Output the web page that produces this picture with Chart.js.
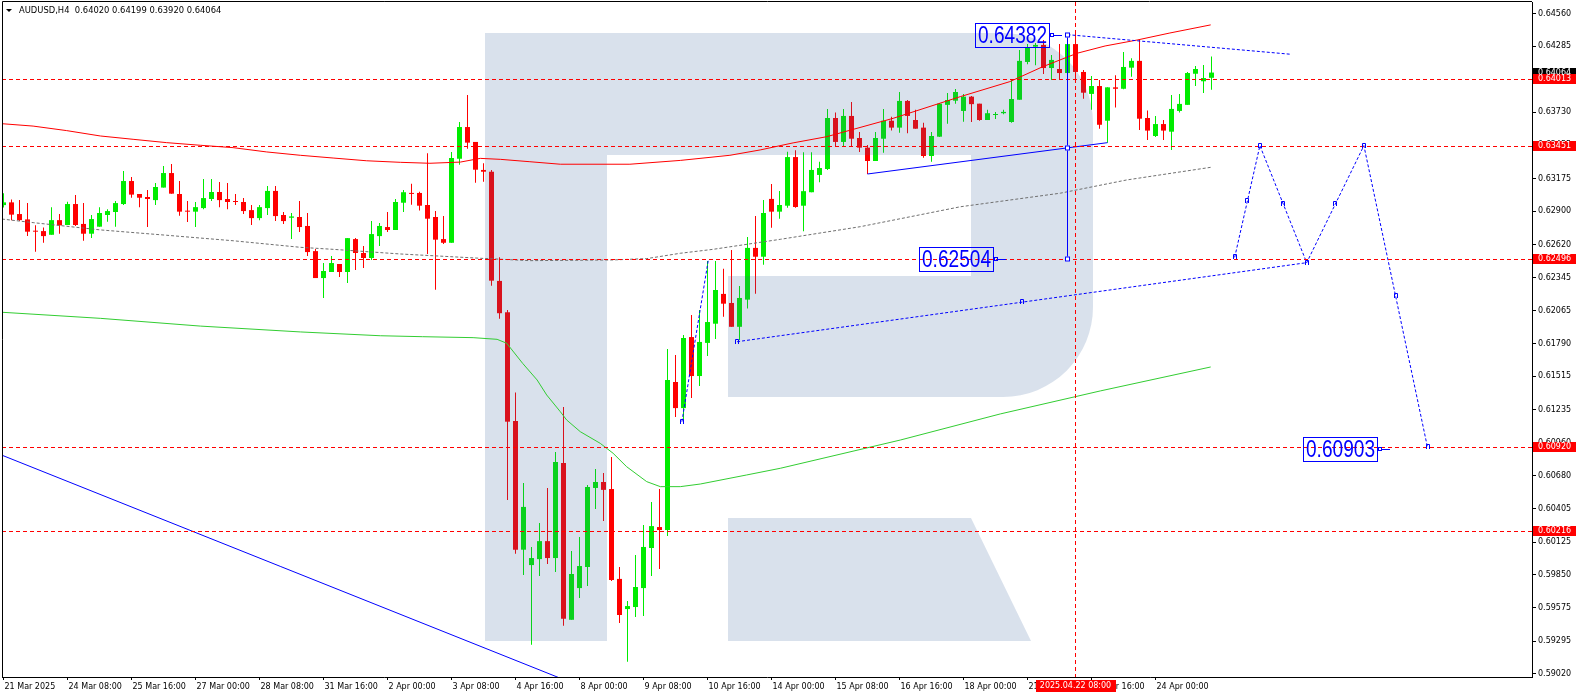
<!DOCTYPE html>
<html>
<head>
<meta charset="utf-8">
<title>AUDUSD,H4</title>
<script src="https://cdn.jsdelivr.net/npm/chart.js@4.4.1/dist/chart.umd.min.js"></script>
<style>
	html, body { margin: 0; padding: 0; background: #fff; overflow: hidden; }
	canvas { display: block; }
</style>
</head>
<body>
<canvas id="mycanvas" width="1578" height="698"></canvas>
<script>
// H4 candles, bar 0 = 21 Mar 2025 00:00
var opens = [0.62952,0.62975,0.62877,0.62832,0.62734,0.62734,0.62703,0.62826,0.62785,0.62961,
	0.62794,0.62712,0.62771,0.62869,0.62894,0.62961,0.63154,0.63045,0.63020,0.62994,
	0.63099,0.63221,0.63045,0.62902,0.62897,0.62927,0.63003,0.63062,0.63003,0.62986,
	0.62978,0.62910,0.62843,0.62927,0.63071,0.62869,0.62846,0.62852,0.62777,0.62566,
	0.62340,0.62391,0.62458,0.62391,0.62667,0.62550,0.62508,0.62692,0.62768,0.62743,
	0.62972,0.63054,0.63054,0.62953,0.62852,0.62667,0.62636,0.63341,0.63607,0.63482,
	0.63247,0.63232,0.62316,0.62053,0.61141,0.60061,0.59932,0.59982,0.60133,0.59991,
	0.60789,0.59473,0.59739,0.59916,0.60579,0.60629,0.60570,0.59816,0.59563,0.59580,
	0.59739,0.60075,0.60251,0.60226,0.61468,0.61249,0.61845,0.61518,0.61796,0.61957,
	0.62207,0.62131,0.61931,0.62159,0.62593,0.62519,0.63004,0.62897,0.62947,0.63355,
	0.62947,0.63060,0.63205,0.63255,0.63683,0.63482,0.63700,0.63515,0.63434,0.63322,
	0.63509,0.63660,0.63602,0.63826,0.63666,0.63602,0.63364,0.63526,0.63793,0.63828,
	0.63742,0.63862,0.63803,0.63666,0.63708,0.63723,0.63649,0.63836,0.64153,0.64281,
	0.64296,0.64102,0.64094,0.64060,0.64303,0.64069,0.63885,0.63951,0.63660,0.63940,
	0.63928,0.64105,0.64162,0.63683,0.63532,0.63632,0.63568,0.63742,0.63793,0.64054,
	0.63991,0.64020];
var highs = [0.63051,0.63000,0.62994,0.62969,0.62782,0.62765,0.62935,0.62877,0.62980,0.63037,
	0.62969,0.62869,0.62935,0.62918,0.62986,0.63238,0.63188,0.63045,0.63079,0.63137,
	0.63280,0.63297,0.63154,0.62986,0.62978,0.63171,0.63171,0.63146,0.63137,0.63045,
	0.63011,0.62952,0.62952,0.63112,0.63112,0.62894,0.62886,0.62986,0.62886,0.62583,
	0.62466,0.62524,0.62458,0.62675,0.62675,0.62609,0.62818,0.62802,0.62894,0.63003,
	0.63079,0.63132,0.63065,0.63387,0.62903,0.62861,0.63398,0.63649,0.63876,0.63482,
	0.63303,0.63247,0.62514,0.62072,0.61379,0.60621,0.60084,0.60285,0.60579,0.60881,
	0.61258,0.60050,0.60167,0.60604,0.60738,0.60705,0.60838,0.59916,0.59631,0.60016,
	0.60268,0.60461,0.60570,0.61745,0.61694,0.61862,0.62030,0.62072,0.62484,0.62484,
	0.62419,0.62575,0.62273,0.62684,0.62861,0.62995,0.63129,0.63071,0.63400,0.63412,
	0.63395,0.63395,0.63316,0.63759,0.63728,0.63759,0.63817,0.63566,0.63457,0.63566,
	0.63759,0.63694,0.63901,0.63834,0.63751,0.63643,0.63566,0.63809,0.63893,0.63926,
	0.63885,0.63868,0.63803,0.63751,0.63734,0.63751,0.64001,0.64253,0.64303,0.64312,
	0.64337,0.64211,0.64303,0.64382,0.64396,0.64086,0.64035,0.64001,0.63940,0.64041,
	0.64237,0.64184,0.64337,0.63745,0.63700,0.63666,0.63876,0.63885,0.64069,0.64119,
	0.64128,0.64199];
var lows = [0.62932,0.62826,0.62818,0.62692,0.62561,0.62636,0.62703,0.62712,0.62785,0.62777,
	0.62653,0.62675,0.62771,0.62812,0.62771,0.62952,0.63014,0.62935,0.62768,0.62952,
	0.63099,0.63048,0.62863,0.62810,0.62768,0.62918,0.62986,0.62935,0.62918,0.62952,
	0.62877,0.62785,0.62826,0.62869,0.62818,0.62794,0.62667,0.62726,0.62524,0.62340,
	0.62172,0.62391,0.62349,0.62298,0.62408,0.62424,0.62491,0.62609,0.62726,0.62743,
	0.62895,0.62955,0.62906,0.62542,0.62242,0.62625,0.62636,0.63291,0.63425,0.63140,
	0.63149,0.62276,0.61999,0.60478,0.60027,0.59848,0.59263,0.59840,0.59940,0.59873,
	0.59424,0.59473,0.59656,0.59756,0.60403,0.60302,0.59798,0.59446,0.59121,0.59496,
	0.59505,0.59840,0.59899,0.60176,0.61174,0.61149,0.61334,0.61434,0.61686,0.61829,
	0.62016,0.61931,0.61820,0.62084,0.62209,0.62452,0.62763,0.62838,0.62930,0.62930,
	0.62733,0.63060,0.63144,0.63247,0.63440,0.63440,0.63440,0.63398,0.63213,0.63322,
	0.63392,0.63577,0.63560,0.63555,0.63593,0.63350,0.63316,0.63523,0.63635,0.63803,
	0.63652,0.63649,0.63660,0.63666,0.63674,0.63714,0.63643,0.63836,0.64134,0.64125,
	0.64052,0.64001,0.64001,0.64001,0.64001,0.63845,0.63751,0.63593,0.63476,0.63770,
	0.63923,0.64029,0.63583,0.63499,0.63523,0.63499,0.63415,0.63728,0.63793,0.63951,
	0.63892,0.63920];
var closes = [0.62975,0.62872,0.62826,0.62729,0.62729,0.62692,0.62826,0.62782,0.62961,0.62785,
	0.62712,0.62835,0.62886,0.62902,0.62969,0.63154,0.63040,0.63014,0.63003,0.63104,
	0.63221,0.63048,0.62897,0.62897,0.62935,0.63011,0.63062,0.62994,0.62978,0.62978,
	0.62902,0.62843,0.62935,0.63071,0.62860,0.62818,0.62857,0.62768,0.62558,0.62340,
	0.62399,0.62466,0.62391,0.62675,0.62550,0.62508,0.62709,0.62777,0.62743,0.62978,
	0.63060,0.63046,0.62947,0.62838,0.62662,0.62636,0.63347,0.63607,0.63476,0.63249,
	0.63232,0.62318,0.62045,0.61135,0.60061,0.60420,0.59991,0.60133,0.59991,0.60797,
	0.59482,0.59857,0.59924,0.60587,0.60629,0.60563,0.59807,0.59513,0.59588,0.59748,
	0.60084,0.60259,0.60226,0.61485,0.61249,0.61837,0.61518,0.61804,0.61971,0.62240,
	0.62125,0.61931,0.62173,0.62593,0.62519,0.62886,0.62897,0.62953,0.63355,0.62936,
	0.63069,0.63247,0.63263,0.63683,0.63482,0.63700,0.63509,0.63434,0.63322,0.63515,
	0.63660,0.63602,0.63826,0.63700,0.63593,0.63364,0.63532,0.63803,0.63834,0.63901,
	0.63862,0.63799,0.63666,0.63723,0.63711,0.63734,0.63842,0.64162,0.64270,0.64296,
	0.64102,0.64170,0.64060,0.64303,0.64069,0.63895,0.63951,0.63626,0.63940,0.63928,
	0.64111,0.64162,0.63677,0.63577,0.63632,0.63577,0.63759,0.63801,0.64060,0.64094,
	0.64018,0.64064];

// time axis: one label every 8 bars
var tickLabels = ['21 Mar 2025','24 Mar 08:00','25 Mar 16:00','27 Mar 00:00','28 Mar 08:00','31 Mar 16:00',
	'2 Apr 00:00','3 Apr 08:00','4 Apr 16:00','8 Apr 00:00','9 Apr 08:00','10 Apr 16:00','14 Apr 00:00',
	'15 Apr 08:00','16 Apr 16:00','18 Apr 00:00','21 Apr 08:00','22 Apr 16:00','24 Apr 00:00'];
var labelEvery = 8;
var priceTicks = [0.64560,0.64285,0.64010,0.63730,0.63455,0.63175,0.62900,0.62620,0.62345,0.62065,0.61790,
	0.61515,0.61235,0.60960,0.60680,0.60405,0.60125,0.59850,0.59575,0.59295,0.59020];

// levels and markers
var levels = [0.64013,0.63451,0.62496,0.60920,0.60216];
var lastPrice = 0.64064;
var markerBar = 134;
var markerText = '2025.04.22 08:00';

// moving averages (bar, price)
var redMaBars = [-0.2,3.7,7.9,12.1,16.2,20.4,24.6,28.7,32.9,37.1,41.2,45.4,49.6,53.3,57.1,59.6,62.1,65.8,69.6,78.3,
	84.6,90.8,94.6,98.7,102.9,111.2,119.6,125.8,129.9,134.2,137.7,141.7,145.8,150.9];
var redMaValues = [0.63635,0.63615,0.63577,0.63532,0.63504,0.63476,0.63454,0.63434,0.63398,0.63370,0.63347,0.63324,
	0.63311,0.63303,0.63313,0.63344,0.63336,0.63316,0.63295,0.63295,0.63327,0.63370,0.63415,0.63474,0.63526,
	0.63680,0.63862,0.63988,0.64113,0.64226,0.64287,0.64337,0.64396,0.64464];
var greenMaBars = [-0.2,12.1,24.6,37.1,47.1,52.4,58.7,61.7,62.9,64.9,66.7,67.9,69.6,70.4,72.1,74.6,76.2,77.9,
	80.4,82.1,84.6,87.1,92.9,97.1,112.1,124.6,137.1,150.9];
var greenMaValues = [0.62053,0.62002,0.61937,0.61888,0.61856,0.61848,0.61840,0.61826,0.61793,0.61624,0.61485,
	0.61359,0.61219,0.61149,0.61051,0.60953,0.60870,0.60757,0.60632,0.60590,0.60590,0.60612,0.60688,0.60744,
	0.60981,0.61200,0.61393,0.61594];
var grayMaBars = [-0.2,3.7,12.1,20.4,28.7,37.1,41.2,49.6,59.6,65.8,76.2,80.4,84.6,88.7,97.1,107.1,119.6,132.1,140.4,150.9];
var grayMaValues = [0.62835,0.62805,0.62744,0.62699,0.62653,0.62598,0.62581,0.62542,0.62506,0.62486,0.62492,
	0.62503,0.62548,0.62581,0.62665,0.62771,0.62938,0.63052,0.63163,0.63269];

// drawn objects (bar, price)
var longLineBars = [-0.2, 80];
var longLineValues = [0.60854, 0.58704];
var trendBars = [108, 138];
var trendValues = [0.63213, 0.63476];
var upperDotBars = [133, 161];
var upperDotValues = [0.64382, 0.64217];
var lowerDotBars = [91.7, 162.9];
var lowerDotValues = [0.61806, 0.62469];
var rallyDotBars = [84.8, 88.1];
var rallyDotValues = [0.61135, 0.62492];
var forecastBars = [153.9, 157.05, 162.9, 170.05, 178.0];
var forecastValues = [0.62514, 0.63451, 0.62469, 0.63451, 0.60920];
var measureBar = 133;
var measureTop = 0.64382;
var measureBottom = 0.62504;
var boxTexts = ['0.64382', '0.62504', '0.60903'];
var boxBars = [130.7, 123.7, 171.7];
var boxValues = [0.64382, 0.62504, 0.60903];

var upColor = '#00ec00';
var downColor = '#ff0000';
var axisFont = 'DejaVu Sans';

function points(bars, values) {
	var out = [];
	for (var i in bars) {
		out.push({x: bars[i], y: values[i]});
	}
	return out;
}

var candleColors = [];
var wickData = [];
var bodyData = [];
for (var i = 0; i < opens.length; i++) {
	candleColors.push(closes[i] >= opens[i] ? upColor : downColor);
	wickData.push({x: i, y: [lows[i], highs[i]]});
	bodyData.push({x: i, y: [opens[i], closes[i]]});
}

function lineSet(data, color, dash, order) {
	return {
		type: 'line',
		data: data,
		borderColor: color,
		borderWidth: 1,
		borderDash: dash,
		pointRadius: 0,
		tension: 0,
		fill: false,
		order: order
	};
}

function drawLogo(chart) {
	var c = chart.ctx, a = chart.chartArea;
	c.save();
	c.beginPath();
	c.rect(a.left, a.top, a.right - a.left, a.bottom - a.top);
	c.clip();
	c.fillStyle = 'rgba(55,95,155,0.19)';
	c.beginPath();
	c.rect(485, 33, 122, 608);
	c.moveTo(607, 33);
	c.lineTo(1003, 33);
	c.arcTo(1093, 33, 1093, 123, 90);
	c.lineTo(1093, 307);
	c.arcTo(1093, 397, 1003, 397, 90);
	c.lineTo(728, 397);
	c.lineTo(728, 276);
	c.lineTo(971, 276);
	c.lineTo(971, 155);
	c.lineTo(607, 155);
	c.closePath();
	c.moveTo(728, 518);
	c.lineTo(971, 518);
	c.lineTo(1031, 641);
	c.lineTo(728, 641);
	c.closePath();
	c.fill();
	c.restore();
}

function axisBox(c, y, bg, text) {
	c.fillStyle = bg;
	c.fillRect(1533, Math.round(y) - 5, 43, 10);
	c.fillStyle = '#fff';
	c.font = '8px ' + axisFont;
	c.textAlign = 'left';
	c.textBaseline = 'middle';
	c.fillText(text, 1538, Math.round(y));
}

var drawings = {
	id: 'drawings',
	beforeDraw: function(chart) {
		var c = chart.ctx;
		c.save();
		c.fillStyle = '#fff';
		c.fillRect(0, 0, chart.width, chart.height);
		c.restore();
	},
	afterDatasetDraw: function(chart, args) {
		if (args.index === 1) drawLogo(chart);
	},
	afterDatasetsDraw: function(chart) {
		var c = chart.ctx, a = chart.chartArea;
		var X = chart.scales.x, Y = chart.scales.y;
		c.save();
		c.beginPath();
		c.rect(a.left, a.top, a.right - a.left, a.bottom - a.top);
		c.clip();

		// horizontal levels and the time marker
		c.strokeStyle = '#ff0000';
		c.lineWidth = 1;
		c.setLineDash([4, 3]);
		levels.forEach(function(p) {
			var y = Math.round(Y.getPixelForValue(p)) + 0.5;
			c.beginPath();
			c.moveTo(a.left, y);
			c.lineTo(a.right, y);
			c.stroke();
		});
		var vx = Math.floor(X.getPixelForValue(markerBar)) + 0.5;
		c.beginPath();
		c.moveTo(vx, a.top);
		c.lineTo(vx, a.bottom);
		c.stroke();
		c.setLineDash([]);

		// measure line with anchor squares
		c.strokeStyle = '#0000ff';
		var mx = Math.floor(X.getPixelForValue(measureBar)) + 0.5;
		var t = (measureBar - trendBars[0]) / (trendBars[1] - trendBars[0]);
		var measureMid = trendValues[0] + t * (trendValues[1] - trendValues[0]);
		c.beginPath();
		c.moveTo(mx, Y.getPixelForValue(measureTop));
		c.lineTo(mx, Y.getPixelForValue(measureBottom));
		c.stroke();
		[measureTop, measureMid, measureBottom].forEach(function(p) {
			var y = Math.round(Y.getPixelForValue(p));
			c.fillStyle = '#fff';
			c.fillRect(mx - 2.5, y - 2.5, 5, 5);
			c.strokeRect(mx - 2, y - 2, 4, 4);
		});

		// price text boxes
		for (var k = 0; k < boxTexts.length; k++) {
			var right = Math.round(X.getPixelForValue(boxBars[k]));
			var yc = Math.round(Y.getPixelForValue(boxValues[k]));
			c.strokeStyle = '#0000ff';
			c.strokeRect(right - 74 + 0.5, yc - 12 + 0.5, 74, 24);
			c.strokeRect(right + 1.5, yc - 1.5, 3, 3);
			c.beginPath();
			c.moveTo(right + 4, yc + 0.5);
			c.lineTo(right + 13, yc + 0.5);
			c.stroke();
			c.save();
			c.translate(right - 71, yc + 8);
			c.scale(0.83, 1);
			c.fillStyle = '#0000ff';
			c.font = '23px "Liberation Sans", Arial, sans-serif';
			c.textAlign = 'left';
			c.textBaseline = 'alphabetic';
			c.fillText(boxTexts[k], 0, 0);
			c.restore();
		}

		// small anchor marks on the dotted paths
		var marks = [];
		for (var f = 0; f < forecastBars.length; f++) {
			marks.push([forecastBars[f], forecastValues[f]]);
			if (f > 0) marks.push([(forecastBars[f] + forecastBars[f - 1]) / 2, (forecastValues[f] + forecastValues[f - 1]) / 2]);
		}
		marks.push([lowerDotBars[0], lowerDotValues[0]]);
		marks.push([(lowerDotBars[0] + lowerDotBars[1]) / 2, (lowerDotValues[0] + lowerDotValues[1]) / 2]);
		marks.push([rallyDotBars[0], rallyDotValues[0]]);
		c.strokeStyle = '#0000ff';
		marks.forEach(function(m) {
			var x = Math.round(X.getPixelForValue(m[0]));
			var y = Math.round(Y.getPixelForValue(m[1]));
			c.beginPath();
			c.moveTo(x - 1.5, y + 2);
			c.lineTo(x - 1.5, y - 2.5);
			c.lineTo(x + 1.5, y - 2.5);
			c.lineTo(x + 1.5, y + 2);
			c.stroke();
		});

		// header
		c.fillStyle = '#000';
		c.beginPath();
		c.moveTo(6, 9);
		c.lineTo(12, 9);
		c.lineTo(9, 12);
		c.closePath();
		c.fill();
		c.font = '8.4px ' + axisFont;
		c.textAlign = 'left';
		c.textBaseline = 'middle';
		c.fillText('AUDUSD,H4  ' + opens[opens.length - 1].toFixed(5) + ' ' + highs[highs.length - 1].toFixed(5) + ' ' +
			lows[lows.length - 1].toFixed(5) + ' ' + closes[closes.length - 1].toFixed(5), 19, 11);
		c.restore();

		// frame, left and top
		c.save();
		c.strokeStyle = '#000';
		c.lineWidth = 1;
		c.beginPath();
		c.moveTo(2.5, a.bottom);
		c.lineTo(2.5, 1.5);
		c.lineTo(a.right, 1.5);
		c.stroke();

		// axis labels
		axisBox(c, Y.getPixelForValue(lastPrice), '#000', lastPrice.toFixed(5));
		levels.forEach(function(p) {
			axisBox(c, Y.getPixelForValue(p), '#ff0000', p.toFixed(5));
		});
		var dx = Math.floor(X.getPixelForValue(markerBar)) + 0.5;
		c.fillStyle = '#ff0000';
		c.fillRect(Math.round(dx - 40), 680, 80, 12);
		c.fillStyle = '#fff';
		c.font = '8px ' + axisFont;
		c.textAlign = 'center';
		c.textBaseline = 'middle';
		c.fillText(markerText, dx, 686);
		c.restore();
	}
};

var ctx = document.getElementById('mycanvas');

var chart = new Chart(ctx, {
	type: 'bar',
	data: {
		datasets: [
			{
				type: 'bar',
				label: 'wicks',
				data: wickData,
				backgroundColor: candleColors,
				maxBarThickness: 1,
				grouped: false,
				borderWidth: 0,
				inflateAmount: 0,
				order: 11
			},
			{
				type: 'bar',
				label: 'bodies',
				data: bodyData,
				backgroundColor: candleColors,
				maxBarThickness: 5,
				minBarLength: 1,
				grouped: false,
				borderWidth: 0,
				inflateAmount: 0,
				order: 10
			},
			lineSet(points(redMaBars, redMaValues), '#ff0000', [], 5),
			lineSet(points(greenMaBars, greenMaValues), '#32cd32', [], 5),
			lineSet(points(grayMaBars, grayMaValues), '#707070', [3, 2], 5),
			lineSet(points(longLineBars, longLineValues), '#0000ff', [], 4),
			lineSet(points(trendBars, trendValues), '#0000ff', [], 4),
			lineSet(points(upperDotBars, upperDotValues), '#0000ff', [3, 2], 4),
			lineSet(points(lowerDotBars, lowerDotValues), '#0000ff', [3, 2], 4),
			lineSet(points(rallyDotBars, rallyDotValues), '#0000ff', [3, 2], 4),
			lineSet(points(forecastBars, forecastValues), '#0000ff', [3, 2], 4)
		]
	},
	options: {
		responsive: false,
		devicePixelRatio: 1,
		animation: false,
		events: [],
		layout: { autoPadding: false, padding: { left: 2, top: 2, right: 0, bottom: 0 } },
		plugins: {
			legend: { display: false },
			tooltip: { enabled: false }
		},
		scales: {
			x: {
				type: 'linear',
				position: 'bottom',
				min: -0.1875,
				max: 191.0625,
				offset: false,
				afterBuildTicks: function(scale) {
					scale.ticks = tickLabels.map(function(t, k) { return {value: k * labelEvery}; });
				},
				afterFit: function(scale) {
					scale.height = 21;
					scale.paddingLeft = 0;
					scale.paddingRight = 0;
				},
				grid: { drawOnChartArea: false, offset: false, tickLength: 3, color: '#000' },
				border: { display: true, color: '#000' },
				ticks: {
					autoSkip: false,
					maxRotation: 0,
					minRotation: 0,
					align: 'start',
					labelOffset: 1,
					padding: 2,
					color: '#000',
					font: { family: axisFont, size: 8 },
					callback: function(v, idx) { return tickLabels[idx]; }
				}
			},
			y: {
				type: 'linear',
				position: 'right',
				min: 0.58993,
				max: 0.64656,
				afterBuildTicks: function(scale) {
					scale.ticks = priceTicks.map(function(v) { return {value: v}; });
				},
				afterFit: function(scale) {
					scale.width = 46;
					scale.paddingTop = 0;
					scale.paddingBottom = 0;
				},
				grid: { drawOnChartArea: false, tickLength: 4, color: '#000' },
				border: { display: true, color: '#000' },
				ticks: {
					autoSkip: false,
					padding: 2,
					color: '#000',
					font: { family: axisFont, size: 8 },
					callback: function(v) { return v.toFixed(5); }
				}
			}
		}
	},
	plugins: [drawings]
});
</script>
</body>
</html>
